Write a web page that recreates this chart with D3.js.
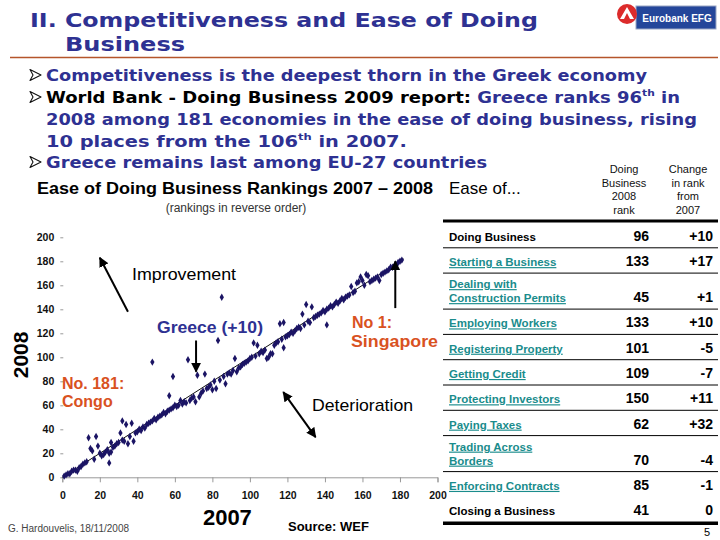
<!DOCTYPE html>
<html>
<head>
<meta charset="utf-8">
<script src="https://cdn.jsdelivr.net/npm/d3@7"></script>
<style>
  body { margin: 0; background: #fff; }
  svg { display: block; }
</style>
</head>
<body>
<div id="slide"></div>
<script>
// Ease of Doing Business rankings, reverse order (182 - rank): [2007, 2008]
const rankPairs = [
  [1,1],[2,2],[3,3],[4,3],[5,5],[6,6],[7,6],[8,5],[9,8],[10,9],[11,11],[12,12],[13,13],
  [14,33],[18,34],[15,24],[16,22],[19,26],[31,37],[32,47],[34,44],[37,45],[25,12],[17,15],
  [21,18],[22,19],[25,20],[26,21],[29,28],[35,28],[38,30],[26,29],
  [20,20],[23,21],[24,23],[27,25],[28,26],[30,29],[32,31],[33,30],[36,34],[39,37],[40,38],
  [41,40],[42,39],[43,42],[44,41],[45,44],[46,45],[47,46],[48,47],[49,49],[50,48],[51,50],
  [52,51],[53,52],[54,54],[55,53],[56,55],[57,56],[58,57],[59,58],[60,60],
  [48,96],[59,84],[57,68],[67,98],[72,85],[76,86],[83,114],[85,150],[92,99],[73,67],[80,73],
  [82,74],[87,78],[71,63],[63,64],[93,88],[95,92],
  [61,59],[62,60],[64,61],[65,63],[66,62],[68,64],[69,66],[70,67],[74,70],[75,72],[77,74],
  [78,75],[79,77],[81,80],[84,81],[86,84],[88,86],[89,87],[90,86],[91,89],[94,91],[96,94],
  [97,95],[98,96],[99,97],[100,99],
  [102,112],[104,110],[116,128],[118,129],[130,144],[133,142],[128,136],[141,127],[118,108],
  [109,99],[111,103],[110,100],[112,103],
  [101,100],[103,101],[105,103],[106,105],[107,104],[108,106],[113,110],[114,112],[115,113],
  [117,115],[119,117],[120,118],[121,119],[122,121],[123,120],[124,122],[125,124],[126,125],
  [127,124],[129,127],[131,130],[132,129],[134,133],[135,134],[136,135],[137,136],[138,137],
  [139,139],[140,138],
  [154,159],[158,163],[159,167],[163,168],[157,162],[160,164],[162,169],[169,164],
  [141,140],[142,141],[143,143],[144,142],[145,144],[146,146],[147,145],[148,147],[149,149],
  [150,148],[151,150],[152,151],[153,152],[155,154],[156,155],[161,160],[164,163],[165,164],
  [166,165],[167,166],[168,167],[170,169],[171,170],[172,171],[173,172],[174,173],[175,175],
  [176,175],[177,176],[178,177],[179,179],[180,180],[181,181]
];
const trendLine = [[0, 0], [182, 182]];
const axisTicks = [0, 20, 40, 60, 80, 100, 120, 140, 160, 180, 200];

const tableItems = ['Doing Business', 'Starting a Business', 'Dealing with|Construction Permits',
  'Employing Workers', 'Registering Property', 'Getting Credit', 'Protecting Investors',
  'Paying Taxes', 'Trading Across|Borders', 'Enforcing Contracts', 'Closing a Business'];
const tableRank2008 = [96, 133, 45, 133, 101, 109, 150, 62, 70, 85, 41];
const tableChange = ['+10', '+17', '+1', '+10', '-5', '-7', '+11', '+32', '-4', '-1', '0'];

const W = 720, H = 540;
const NAVY = '#2e3192', ORANGE = '#d9521f', TEAL = '#1a8c8c', DOT = '#1b1464';
const ARIAL = 'Liberation Sans, Arial, sans-serif';
const VERDANA = 'DejaVu Sans, Verdana, sans-serif';

const svg = d3.select('#slide').append('svg')
  .attr('width', W).attr('height', H)
  .attr('viewBox', `0 0 ${W} ${H}`);
svg.append('rect').attr('width', W).attr('height', H).attr('fill', '#fff');

svg.append('defs').append('marker')
  .attr('id', 'arrowHead')
  .attr('viewBox', '0 0 10 10')
  .attr('refX', 9).attr('refY', 5)
  .attr('markerWidth', 5).attr('markerHeight', 5)
  .attr('orient', 'auto-start-reverse')
  .append('path').attr('d', 'M0,0L10,5L0,10z').attr('fill', '#000');

// ---- title + logo
const title = svg.append('g')
  .attr('font-family', VERDANA).attr('font-weight', 'bold')
  .attr('font-size', 20).attr('fill', NAVY);
title.append('text').attr('x', 30).attr('y', 27)
  .attr('textLength', 508).attr('lengthAdjust', 'spacingAndGlyphs')
  .text('II.  Competitiveness and Ease of Doing');
title.append('text').attr('x', 65).attr('y', 51)
  .attr('textLength', 120).attr('lengthAdjust', 'spacingAndGlyphs')
  .text('Business');

svg.append('line').attr('x1', 10).attr('x2', 718).attr('y1', 57.5).attr('y2', 57.5)
  .attr('stroke', '#b5552b').attr('stroke-width', 1.5);

const logo = svg.append('g');
logo.append('rect').attr('x', 636).attr('y', 6).attr('width', 80).attr('height', 23)
  .attr('fill', '#24469a').attr('stroke', '#9aa6c4').attr('stroke-width', 1);
logo.append('text').attr('x', 677).attr('y', 21.5).attr('text-anchor', 'middle')
  .attr('font-family', ARIAL).attr('font-weight', 'bold').attr('font-size', 10)
  .attr('fill', '#fff')
  .text('Eurobank EFG');
logo.append('circle').attr('cx', 627).attr('cy', 14).attr('r', 10).attr('fill', '#dc2b2b');
logo.append('path').attr('d', 'M620,19 L627,7 L634,19 L630,19 L627,13 L624,19 Z')
  .attr('fill', '#fff');

// ---- bullets
const bullets = svg.append('g')
  .attr('font-family', VERDANA).attr('font-weight', 'bold').attr('font-size', 16);
[81, 103, 168].forEach(by => {
  bullets.append('path')
    .attr('transform', `translate(30,${by - 6})`)
    .attr('d', 'M0,-5.5 L11,0 L0,5.5 L3,0 Z')
    .attr('fill', '#fff').attr('stroke', '#111').attr('stroke-width', 1.1)
    .attr('stroke-linejoin', 'round');
});
bullets.append('text').attr('x', 46).attr('y', 81).attr('fill', NAVY)
  .attr('textLength', 601).attr('lengthAdjust', 'spacingAndGlyphs')
  .text('Competitiveness is the deepest thorn in the Greek economy');
const b2 = bullets.append('text').attr('x', 46).attr('y', 103)
  .attr('textLength', 634).attr('lengthAdjust', 'spacingAndGlyphs');
b2.append('tspan').attr('fill', '#000').text('World Bank - Doing Business 2009 report: ');
b2.append('tspan').attr('fill', NAVY).text('Greece ranks 96');
b2.append('tspan').attr('fill', NAVY).attr('font-size', 9.5).attr('dy', -7).text('th');
b2.append('tspan').attr('fill', NAVY).attr('dy', 7).text(' in');
bullets.append('text').attr('x', 46).attr('y', 125).attr('fill', NAVY)
  .attr('textLength', 651).attr('lengthAdjust', 'spacingAndGlyphs')
  .text('2008 among 181 economies in the ease of doing business, rising');
const b4 = bullets.append('text').attr('x', 46).attr('y', 147).attr('fill', NAVY)
  .attr('textLength', 361).attr('lengthAdjust', 'spacingAndGlyphs');
b4.append('tspan').text('10 places from the 106');
b4.append('tspan').attr('font-size', 9.5).attr('dy', -7).text('th');
b4.append('tspan').attr('dy', 7).text(' in 2007.');
bullets.append('text').attr('x', 46).attr('y', 168).attr('fill', NAVY)
  .attr('textLength', 441).attr('lengthAdjust', 'spacingAndGlyphs')
  .text('Greece remains last among EU-27 countries');

// ---- chart
svg.append('text').attr('x', 37).attr('y', 194)
  .attr('font-family', ARIAL).attr('font-weight', 'bold').attr('font-size', 16.5)
  .attr('textLength', 396).attr('lengthAdjust', 'spacingAndGlyphs')
  .text('Ease of Doing Business Rankings 2007 \u2013 2008');
svg.append('text').attr('x', 236).attr('y', 212).attr('text-anchor', 'middle')
  .attr('font-family', ARIAL).attr('font-size', 12).attr('fill', '#333')
  .text('(rankings in reverse order)');

const x = d3.scaleLinear().domain([0, 200]).range([62.3, 437.5]);
const y = d3.scaleLinear().domain([0, 200]).range([477.3, 237.3]);

const chart = svg.append('g');

const xAxis = chart.append('g').attr('transform', `translate(0,${y(0)})`)
  .call(d3.axisBottom(x).tickValues(axisTicks).tickSize(5).tickPadding(9));
xAxis.select('.domain').attr('stroke', '#999');
xAxis.selectAll('.tick line').attr('stroke', '#999');
xAxis.selectAll('.tick text')
  .attr('font-family', ARIAL).attr('font-weight', 'bold').attr('font-size', 10.5).attr('fill', '#111');

const yAxis = chart.append('g').attr('transform', `translate(${x(0) + 1},0)`)
  .call(d3.axisLeft(y).tickValues(axisTicks).tickSize(3).tickPadding(6));
yAxis.select('.domain').remove();
yAxis.selectAll('.tick line').attr('stroke', '#999');
yAxis.selectAll('.tick text')
  .attr('font-family', ARIAL).attr('font-weight', 'bold').attr('font-size', 10.5).attr('fill', '#111');

chart.append('text')
  .attr('transform', `translate(28,${y(102)}) rotate(-90)`)
  .attr('text-anchor', 'middle')
  .attr('font-family', ARIAL).attr('font-weight', 'bold').attr('font-size', 21)
  .text('2008');
chart.append('text').attr('x', x(88)).attr('y', 525).attr('text-anchor', 'middle')
  .attr('font-family', ARIAL).attr('font-weight', 'bold').attr('font-size', 22)
  .text('2007');

chart.append('path').datum(trendLine)
  .attr('d', d3.line().x(d => x(d[0])).y(d => y(d[1])))
  .attr('stroke', '#111').attr('stroke-width', 1).attr('fill', 'none');

chart.append('g').selectAll('path')
  .data(rankPairs)
  .join('path')
  .attr('transform', d => `translate(${x(d[0])},${y(d[1])})`)
  .attr('d', d3.symbol().type(d3.symbolDiamond).size(16))
  .attr('fill', DOT);

// annotations (positioned in data space)
const arrows = [
  { from: [35, 138], to: [20, 183], both: false },
  { from: [71.3, 114], to: [71.3, 88], both: false },
  { from: [177.5, 141], to: [177.5, 180], both: false },
  { from: [135, 33.5], to: [117.8, 71], both: true },
];
chart.append('g').selectAll('line')
  .data(arrows)
  .join('line')
  .attr('x1', d => x(d.from[0])).attr('y1', d => y(d.from[1]))
  .attr('x2', d => x(d.to[0])).attr('y2', d => y(d.to[1]))
  .attr('stroke', '#000').attr('stroke-width', 2)
  .attr('marker-end', 'url(#arrowHead)')
  .attr('marker-start', d => d.both ? 'url(#arrowHead)' : null);

const notes = chart.append('g').attr('font-family', ARIAL);
notes.append('text').attr('x', 132).attr('y', 280).attr('font-size', 17)
  .attr('textLength', 104).attr('lengthAdjust', 'spacingAndGlyphs').text('Improvement');
notes.append('text').attr('x', 312).attr('y', 411).attr('font-size', 17)
  .attr('textLength', 101).attr('lengthAdjust', 'spacingAndGlyphs').text('Deterioration');
notes.append('text').attr('x', 157).attr('y', 333).attr('font-size', 16)
  .attr('font-weight', 'bold').attr('fill', NAVY)
  .attr('textLength', 106).attr('lengthAdjust', 'spacingAndGlyphs').text('Greece (+10)');
const orange = notes.append('g').attr('font-size', 16).attr('font-weight', 'bold').attr('fill', ORANGE);
orange.append('text').attr('x', 352).attr('y', 328).text('No 1:');
orange.append('text').attr('x', 351).attr('y', 347)
  .attr('textLength', 87).attr('lengthAdjust', 'spacingAndGlyphs').text('Singapore');
orange.append('text').attr('x', 62).attr('y', 389).text('No. 181:');
orange.append('text').attr('x', 62).attr('y', 407).text('Congo');

svg.append('text').attr('x', 288).attr('y', 531)
  .attr('font-family', ARIAL).attr('font-weight', 'bold').attr('font-size', 13)
  .text('Source: WEF');
svg.append('text').attr('x', 8).attr('y', 532)
  .attr('font-family', ARIAL).attr('font-size', 10).attr('fill', '#444')
  .text('G. Hardouvelis, 18/11/2008');

// ---- table
const tbl = svg.append('g').attr('font-family', ARIAL);
tbl.append('text').attr('x', 449).attr('y', 194).attr('font-size', 17).text('Ease of...');
const headCols = [
  { cx: 624, lines: ['Doing', 'Business', '2008', 'rank'] },
  { cx: 688, lines: ['Change', 'in rank', 'from', '2007'] },
];
headCols.forEach(c => {
  c.lines.forEach((s, i) => {
    tbl.append('text').attr('x', c.cx).attr('y', 173 + i * 13.7)
      .attr('text-anchor', 'middle').attr('font-size', 11).attr('fill', '#111').text(s);
  });
});

const TX0 = 443, TX1 = 718;
tbl.append('line').attr('x1', TX0).attr('x2', TX1).attr('y1', 221).attr('y2', 221)
  .attr('stroke', '#000').attr('stroke-width', 3);

let rowTop = 222.5;
tableItems.forEach((item, i) => {
  const lines = item.split('|');
  const h = lines.length > 1 ? 36 : 25.3;
  const bottom = rowTop + h;
  const base = bottom - 7;
  const isLink = i > 0 && i < tableItems.length - 1;
  lines.forEach((ln, j) => {
    tbl.append('text').attr('x', 449).attr('y', base - (lines.length - 1 - j) * 14)
      .attr('font-size', 11.5).attr('font-weight', 'bold')
      .attr('fill', isLink ? TEAL : '#000')
      .attr('text-decoration', isLink ? 'underline' : null)
      .text(ln);
  });
  tbl.append('text').attr('x', 649).attr('y', base).attr('text-anchor', 'end')
    .attr('font-size', 14).attr('font-weight', 'bold').text(tableRank2008[i]);
  tbl.append('text').attr('x', 713).attr('y', base).attr('text-anchor', 'end')
    .attr('font-size', 14).attr('font-weight', 'bold').text(tableChange[i]);
  if (i < tableItems.length - 2) {
    tbl.append('line').attr('x1', TX0).attr('x2', TX1).attr('y1', bottom).attr('y2', bottom)
      .attr('stroke', '#000').attr('stroke-width', 1);
  }
  rowTop = bottom;
});
tbl.append('line').attr('x1', TX0).attr('x2', TX1).attr('y1', rowTop + 1).attr('y2', rowTop + 1)
  .attr('stroke', '#000').attr('stroke-width', 3.5);
tbl.append('text').attr('x', 707).attr('y', 536).attr('text-anchor', 'middle')
  .attr('font-size', 11).text('5');
</script>
</body>
</html>
